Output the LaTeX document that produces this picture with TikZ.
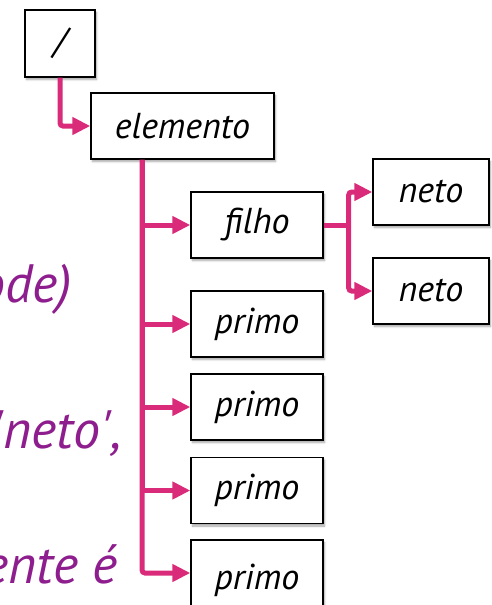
\documentclass[tikz,border=0pt]{standalone}
\usepackage{fontspec}
\setmainfont{PT Sans}
\usetikzlibrary{arrows.meta,shadows.blur}
\definecolor{linkpink}{HTML}{D92B79}
\definecolor{notepurple}{HTML}{8E1E8E}
\newcommand{\sq}{\textquotesingle}
\tikzset{
  treebox/.style={draw=black, line width=1.4pt, fill=white, inner sep=0pt,
    blur shadow={shadow xshift=1.5pt, shadow yshift=-2.5pt, shadow blur steps=5, shadow opacity=35},
    font=\fontsize{36}{40}\selectfont\itshape},
  link/.style={draw=linkpink, line width=5pt, rounded corners=3pt,
    -{Triangle[length=18pt,width=17pt]}},
  trunk/.style={draw=linkpink, line width=5pt, rounded corners=3pt},
  note/.style={text=notepurple, font=\fontsize{54}{58}\selectfont\itshape, anchor=base east, inner sep=0pt}
}
\begin{document}
\begin{tikzpicture}[x=1pt,y=-1pt]
\useasboundingbox (0,0) rectangle (491,605);
% notes on the left, running in from beyond the left edge
\node[note] (n1) at (72,302) {(node)};
\node[note] (n2) at (122,448) {\sq neto\sq,};
\node[note] (n3) at (118,583) {mente é};
% tree boxes
\node[treebox, minimum width=70pt, minimum height=67pt] (root) at (60,43.5) {/};
\node[treebox, minimum width=183pt, minimum height=66pt] (elem) at (182.5,126) {elemento};
\node[treebox, minimum width=132pt, minimum height=66pt] (filho) at (257,225) {filho};
\node[treebox, minimum width=116pt, minimum height=66pt] (neto1) at (431,192) {neto};
\node[treebox, minimum width=116pt, minimum height=66pt] (neto2) at (431,291) {neto};
\node[treebox, minimum width=132pt, minimum height=66pt] (p1) at (257,324) {primo};
\node[treebox, minimum width=132pt, minimum height=66pt] (p2) at (257,407) {primo};
\node[treebox, minimum width=132pt, minimum height=66pt] (p3) at (257,490.5) {primo};
\node[treebox, minimum width=132pt, minimum height=80pt] (p4) at (257,580) {primo};
% connectors
\draw[link] (root.south) |- (elem.west);
\coordinate (tk) at ([xshift=-40.5pt]elem.south);
\draw[trunk] (tk) -- (tk |- p3.west);
\foreach \b in {filho,p1,p2,p3}
  \draw[link] (tk |- \b.west) -- (\b.west);
\draw[link] (tk) |- ([yshift=7pt]p4.west);
\coordinate (fk) at ([xshift=25pt]filho.east);
\draw[trunk] (filho.east) -- (fk);
\draw[link] (fk) |- (neto1.west);
\draw[link] (fk) |- (neto2.west);
\end{tikzpicture}
\end{document}
